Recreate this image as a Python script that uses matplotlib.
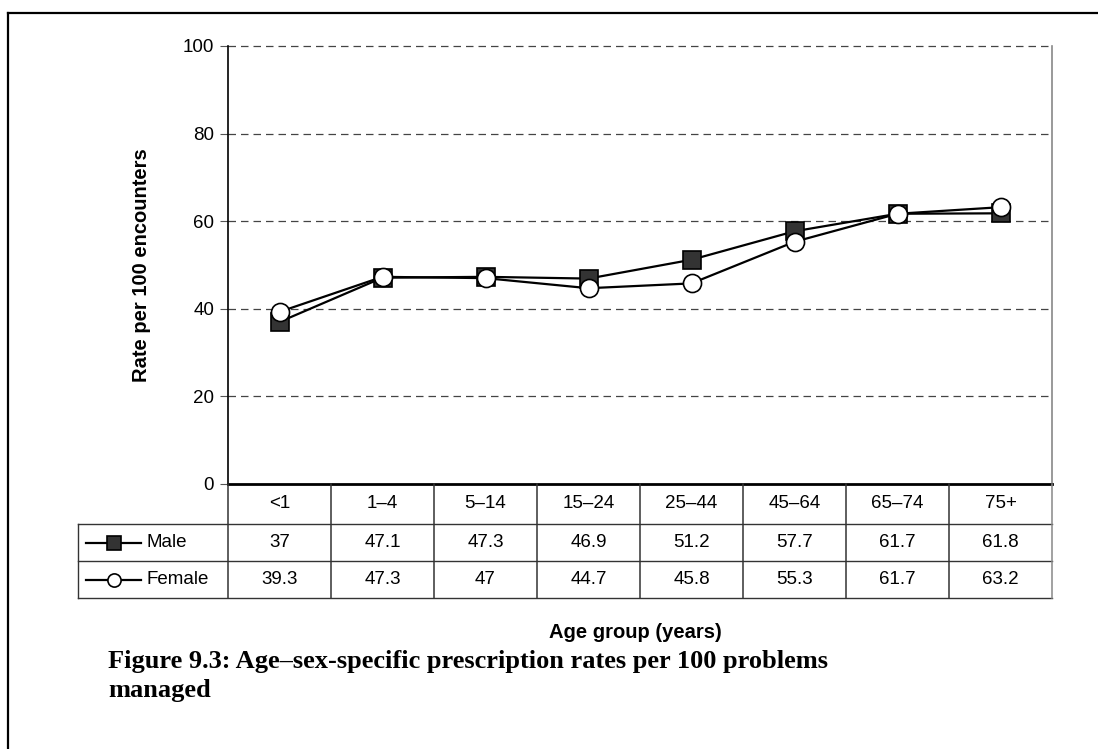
import matplotlib.pyplot as plt
import numpy as np
from matplotlib.lines import Line2D

# data
age_groups = ["<1", "1\u20134", "5\u201314", "15\u201324", "25\u201344", "45\u201364", "65\u201374", "75+"]
male = [37, 47.1, 47.3, 46.9, 51.2, 57.7, 61.7, 61.8]
female = [39.3, 47.3, 47, 44.7, 45.8, 55.3, 61.7, 63.2]
series_names = ["Male", "Female"]
y_ticks = [0, 20, 40, 60, 80, 100]

W, H = 1098, 749
plt.rcParams["font.family"] = ["Liberation Sans", "DejaVu Sans"]

fig = plt.figure(figsize=(W / 100, H / 100), dpi=100)


def fx(px):
    return px / W


def fy(py):
    return 1 - py / H


# outer frame (only left/top visible in the page crop)
fig.add_artist(Line2D([fx(8), fx(8)], [fy(13), 0], color="black", lw=1.6, transform=fig.transFigure))
fig.add_artist(Line2D([fx(8), 1], [fy(13), fy(13)], color="black", lw=1.6, transform=fig.transFigure))

# main plot area
ax_left, ax_right, ax_top, ax_bot = 228, 1052, 46, 484
ax = fig.add_axes([fx(ax_left), fy(ax_bot), fx(ax_right - ax_left), fy(ax_top) - fy(ax_bot)])
n = len(age_groups)
x = np.arange(n)

ax.plot(x, male, color="black", lw=1.6, marker="s", markersize=13.5,
        markerfacecolor="#333333", markeredgecolor="black", markeredgewidth=1.2, zorder=3)
ax.plot(x, female, color="black", lw=1.6, marker="o", markersize=13,
        markerfacecolor="white", markeredgecolor="black", markeredgewidth=1.2, zorder=4)

ax.set_xlim(-0.5, n - 0.5)
ax.set_ylim(0, 100)
ax.set_yticks(y_ticks)
ax.set_xticks([])
ax.tick_params(axis="y", direction="out", length=6, width=0.8, color="#555555", labelsize=13.5, pad=4)
for v in y_ticks[1:]:
    ax.axhline(v, color="#444444", lw=0.9, ls=(0, (6, 4)), zorder=1, clip_on=False)
ax.spines["top"].set_visible(False)
ax.spines["right"].set_color("#888888")
ax.spines["right"].set_linewidth(1.2)
ax.spines["left"].set_linewidth(1.2)
ax.spines["bottom"].set_linewidth(2)
ax.set_ylabel("Rate per 100 encounters", fontsize=14.5, fontweight="bold", labelpad=23)

# data table under the plot
tb_left, tb_bot = 78, 598
row_edges = [484, 524, 561, 598]
tax = fig.add_axes([fx(tb_left), fy(tb_bot), fx(ax_right - tb_left), fy(ax_bot) - fy(tb_bot)])
cw = (ax_right - ax_left) / n


def dx(px):
    return -0.5 + (px - ax_left) / cw


tax.set_xlim(dx(tb_left), n - 0.5)
tax.set_ylim(row_edges[-1], row_edges[0])
tax.axis("off")

lc = "#333333"
for ry in row_edges[1:]:
    tax.plot([dx(tb_left), n - 0.5], [ry, ry], color=lc, lw=1.0, clip_on=False)
tax.plot([dx(tb_left), dx(tb_left)], [row_edges[1], row_edges[-1]], color=lc, lw=1.0, clip_on=False)
for i in range(n + 1):
    c = "#888888" if i == n else lc
    tax.plot([i - 0.5, i - 0.5], [row_edges[0], row_edges[-1]], color=c, lw=1.1, clip_on=False)

row_mid = [(row_edges[k] + row_edges[k + 1]) / 2 for k in range(3)]
for i, lab in enumerate(age_groups):
    tax.text(i, row_mid[0], lab, ha="center", va="center", fontsize=13.5)
for k, vals in enumerate([male, female]):
    for i, v in enumerate(vals):
        tax.text(i, row_mid[k + 1], f"{v:g}", ha="center", va="center", fontsize=13.5)

styles = [dict(marker="s", markerfacecolor="#333333"), dict(marker="o", markerfacecolor="white")]
for k, name in enumerate(series_names):
    ym = row_mid[k + 1]
    tax.plot([dx(86), dx(141)], [ym, ym], color="black", lw=1.6, clip_on=False)
    tax.plot([dx(113.5)], [ym], markersize=9.5, markeredgecolor="black", markeredgewidth=1.2,
             color="black", clip_on=False, **styles[k])
    tax.text(dx(146), ym, name, ha="left", va="center", fontsize=13.5)

fig.text(fx(635), fy(633), "Age group (years)", ha="center", va="center", fontsize=14.5, fontweight="bold")
fig.text(fx(108), fy(676), "Figure 9.3: Age\u2013sex-specific prescription rates per 100 problems\nmanaged",
         ha="left", va="center", fontsize=19, fontweight="bold", family="Liberation Serif", linespacing=1.3)

fig.savefig("out.png", dpi=100)
